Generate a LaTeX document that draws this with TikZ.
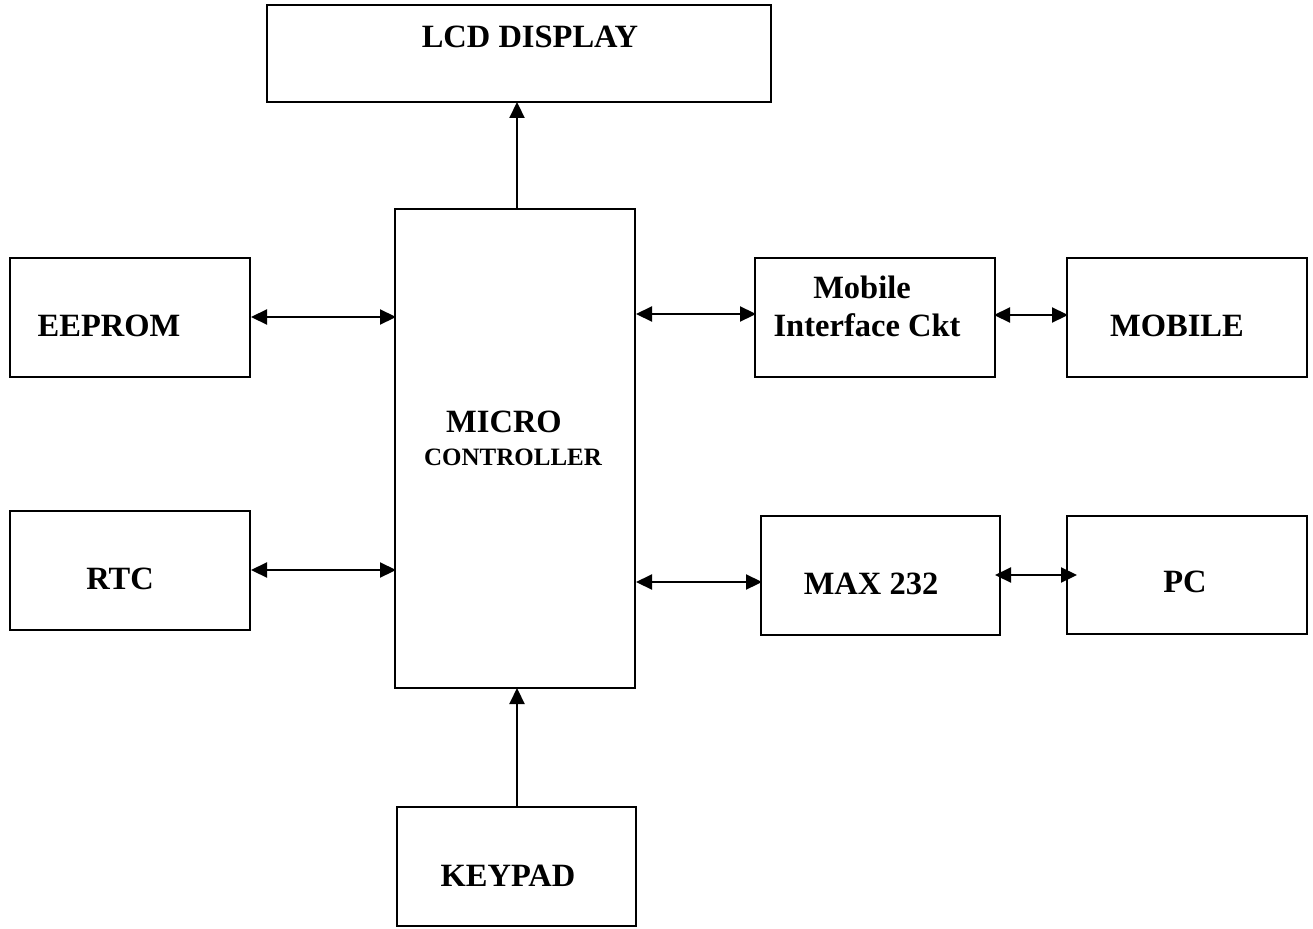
\documentclass[tikz,border=0pt]{standalone}
\usepackage{fontspec}
\setmainfont{Liberation Serif}
\usetikzlibrary{arrows.meta}
\begin{document}
\begin{tikzpicture}[x=1pt,y=-1pt,
  blk/.style={draw=black,line width=1.8pt,inner sep=0pt,outer sep=0pt},
  lbl/.style={font=\fontsize{32.5}{38}\selectfont\bfseries,inner sep=0pt,align=center},
  sml/.style={font=\fontsize{25}{30}\selectfont\bfseries,inner sep=0pt},
  tip/.style={-{Triangle[length=16pt,width=15pt]},line width=2.2pt},
  bitip/.style={{Triangle[length=16pt,width=15pt]}-{Triangle[length=16pt,width=15pt]},line width=2.2pt,shorten <=-1pt,shorten >=-1pt}]
\useasboundingbox (0,0) rectangle (1313,928);
% boxes
\node[blk,minimum width=504pt,minimum height=97pt] (lcd) at (519,53.5) {};
\node[blk,minimum width=240pt,minimum height=479pt] (mc) at (515,448.5) {};
\node[blk,minimum width=240pt,minimum height=119pt] (eeprom) at (130,317.5) {};
\node[blk,minimum width=240pt,minimum height=119pt] (rtc) at (130,570.5) {};
\node[blk,minimum width=240pt,minimum height=119pt] (mic) at (875,317.5) {};
\node[blk,minimum width=240pt,minimum height=119pt] (mobile) at (1187,317.5) {};
\node[blk,minimum width=239pt,minimum height=119pt] (max) at (880.5,575.5) {};
\node[blk,minimum width=240pt,minimum height=118pt] (pc) at (1187,575) {};
\node[blk,minimum width=239pt,minimum height=119pt] (keypad) at (516.5,866.5) {};
% labels
\node[lbl] (tlcd) at (530,36.5) {LCD DISPLAY};
\node[lbl] (tmicro) at (504,422) {MICRO};
\node[sml] (tctrl) at (513,457) {CONTROLLER};
\node[lbl] (teeprom) at (109,326) {EEPROM};
\node[lbl] (trtc) at (120,579) {RTC};
\node[lbl] (tmob1) at (862,287.5) {Mobile};
\node[lbl] (tmob2) at (867,325) {Interface Ckt};
\node[lbl] (tmobile) at (1177,326) {MOBILE};
\node[lbl] (tmax) at (871,584) {MAX 232};
\node[lbl] (tpc) at (1185,582) {PC};
\node[lbl] (tkeypad) at (508,876) {KEYPAD};
% connectors
\coordinate (pcin) at (1076,575);
\draw[tip] (mc.north -| 517,0) -- (lcd.south -| 517,0);
\draw[tip] (keypad.north -| 517,0) -- (mc.south -| 517,0);
\draw[bitip] (eeprom.east |- 0,317) ++(2,0) -- (mc.west |- 0,317);
\draw[bitip] (rtc.east |- 0,570) ++(2,0) -- (mc.west |- 0,570);
\draw[bitip] (mc.east |- 0,314) ++(2,0) -- (mic.west |- 0,314);
\draw[bitip] (mc.east |- 0,582) ++(2,0) -- (max.west |- 0,582);
\draw[bitip] (mic.east |- 0,315) -- (mobile.west |- 0,315);
\draw[bitip] (max.east |- 0,575) ++(-4,0) -- (pcin);
\end{tikzpicture}
\end{document}
